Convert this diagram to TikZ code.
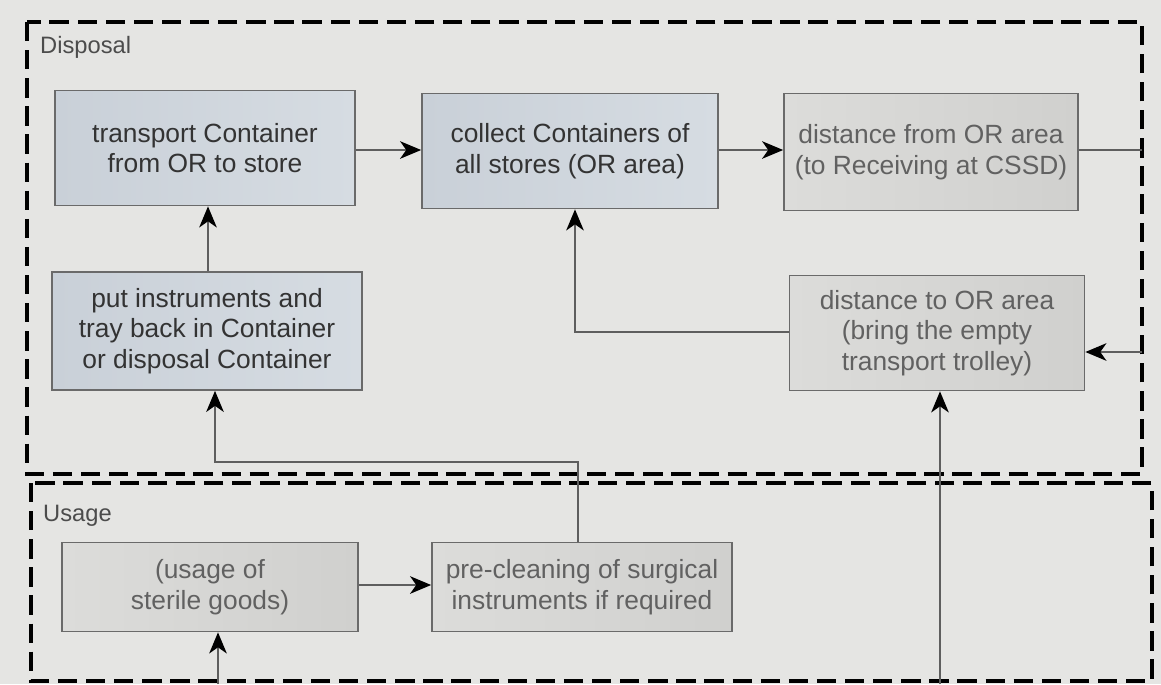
\documentclass[tikz,border=0pt]{standalone}
\usepackage{fontspec}
\setmainfont{Liberation Sans}
\usetikzlibrary{arrows.meta,positioning}

\definecolor{bgcol}{HTML}{E5E5E3}
\definecolor{edgecol}{HTML}{6A6A6A}
\definecolor{bluetop}{HTML}{C9D0D8}
\definecolor{bluebot}{HTML}{D6DCE2}
\definecolor{graytop}{HTML}{DCDCDA}
\definecolor{graybot}{HTML}{D0D0CE}
\definecolor{wirecol}{HTML}{5E5E5E}

\tikzset{
  procbox/.style={draw=edgecol, line width=1pt, align=center,
    minimum width=6cm, minimum height=2.3cm,
    font=\fontsize{15}{17.5}\selectfont},
  bluebox/.style={procbox, left color=bluetop, right color=bluebot, text=black!80},
  graybox/.style={procbox, left color=graytop, right color=graybot, text=black!62},
  wire/.style={draw=wirecol, line width=1pt},
  flow/.style={wire, -{Stealth[black,length=12pt,width=10pt,inset=3.5pt]}},
  area/.style={draw=black, line width=2.4pt, dash pattern=on 11pt off 5pt},
  arealabel/.style={anchor=west, text=black!70, font=\fontsize{13.5}{15}\selectfont}
}

\begin{document}
\begin{tikzpicture}[x=0.02cm,y=-0.02cm]
    \fill[bgcol] (0,0) rectangle (1161,684);
    \useasboundingbox (0,0) rectangle (1161,684);

    \draw[area] (27,22) rectangle (1142,474);
    \draw[area] (31,483) rectangle (1152,681);
    \node[arealabel] (disposal) at (34,47) {Disposal};
    \node[arealabel] (usagelbl) at (37,516) {Usage};

    \node[bluebox] (transport) at (205,148) {transport Container\\from OR to store};
    \node[bluebox, minimum width=5.92cm] (collect) at (570,151) {collect Containers of\\all stores (OR area)};
    \node[graybox, minimum width=5.88cm, minimum height=2.34cm] (distfrom) at (931,152) {distance from OR area\\(to Receiving at CSSD)};
    \node[bluebox, minimum width=6.2cm, minimum height=2.36cm] (put) at (207,331) {put instruments and\\tray back in Container\\or disposal Container};
    \node[graybox, minimum width=5.9cm] (distto) at (937,333) {distance to OR area\\(bring the empty\\transport trolley)};
    \node[graybox, minimum width=5.92cm, minimum height=1.78cm] (usage) at (210,587) {(usage of\\sterile goods)};
    \node[graybox, minimum height=1.78cm] (preclean) at (582,587) {pre-cleaning of surgical\\instruments if required};

    \coordinate (outright) at (1142,150);
    \coordinate (inright) at (1142,352);
    \coordinate (inbottom) at (940,684);
    \coordinate (usebottom) at (218,684);

    \draw[flow] (transport.east |- 0,150) -- (collect.west |- 0,150);
    \draw[flow] (collect.east |- 0,150) -- (distfrom.west |- 0,150);
    \draw[wire] (distfrom.east |- 0,150) -- (outright);
    \draw[flow] (put.north -| 208,0) -- (transport.south -| 208,0);
    \draw[flow] (distto.west |- 0,332) -| (collect.south -| 575,0);
    \draw[flow] (inright) -- (distto.east |- inright);
    \draw[flow] (inbottom) -- (distto.south -| inbottom);
    \draw[flow] (preclean.north -| 578,0) |- (215,462) -- (put.south -| 215,0);
    \draw[flow] (usage.east |- 0,585) -- (preclean.west |- 0,585);
    \draw[flow] (usebottom) -- (usage.south -| usebottom);
\end{tikzpicture}
\end{document}
